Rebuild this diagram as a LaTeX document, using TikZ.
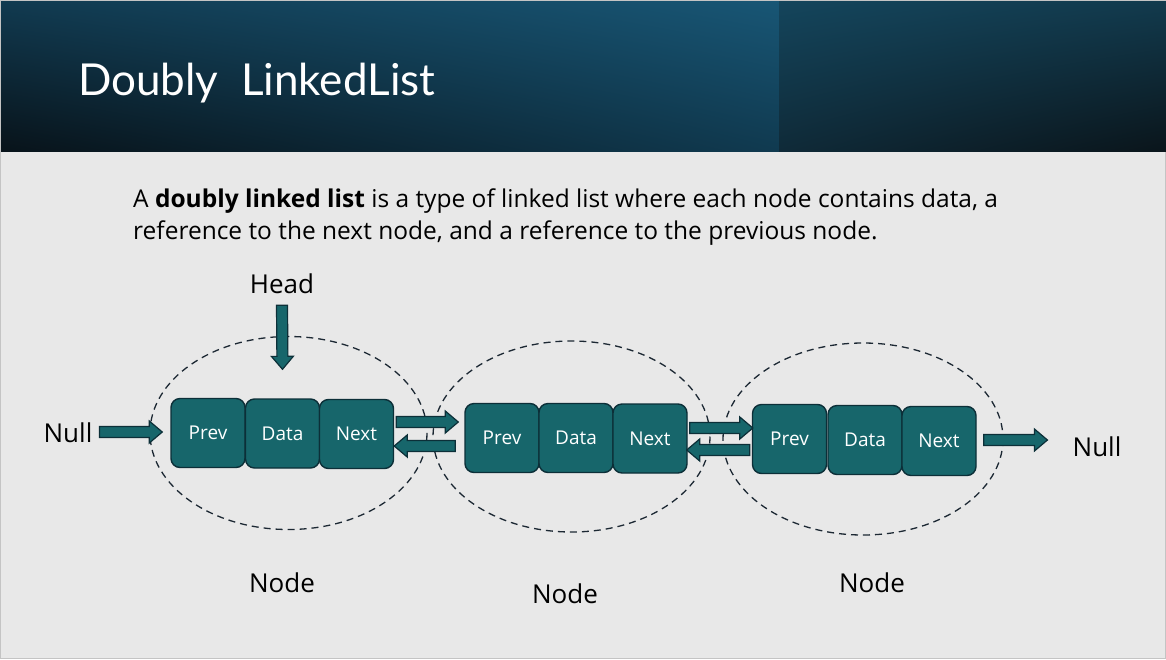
\documentclass[tikz,border=0pt]{standalone}
\usepackage{fontspec}
\setmainfont{Open Sans}
\newfontfamily\titlefont{Lato}
\usetikzlibrary{calc,shadings}
\definecolor{bg}{HTML}{E8E8E8}
\definecolor{frame}{HTML}{C4C4C4}
\definecolor{cellfill}{HTML}{17666B}
\definecolor{celldraw}{HTML}{0C2F38}
\definecolor{hdrUL}{HTML}{113A50}
\definecolor{hdrUR}{HTML}{185675}
\definecolor{hdrLL}{HTML}{08131A}
\definecolor{hdrLR}{HTML}{103A50}
\definecolor{hdrtwoUL}{HTML}{14455C}
\definecolor{hdrtwoUR}{HTML}{123A4D}
\definecolor{hdrtwoLL}{HTML}{0F2A38}
\definecolor{hdrtwoLR}{HTML}{0A151B}
\definecolor{dashc}{HTML}{1C2833}
\begin{document}
\begin{tikzpicture}[x=1pt,y=-1pt,
  cell/.style={draw=celldraw, fill=cellfill, line width=1.4pt, rounded corners=9pt,
    minimum width=74pt, minimum height=69pt, text=white, inner sep=0pt,
    font=\fontsize{19}{21}\selectfont},
  lbl/.style={font=\fontsize{26}{30}\selectfont, text=black, inner sep=0pt},
  wrap/.style={draw=dashc, dash pattern=on 7pt off 5pt, line width=1.3pt},
  blockarrow/.style={draw=celldraw, fill=cellfill, line width=1.2pt, line join=miter,
    to path={let \p1=(\tikztostart), \p2=(\tikztotarget),
      \n1={atan2(\y2-\y1,\x2-\x1)}, \n2={veclen(\x2-\x1,\y2-\y1)} in
      {[shift={(\p1)}, rotate=\n1] (0,-5.5) -- (\n2-13,-5.5) -- (\n2-13,-11) -- (\n2,0)
       -- (\n2-13,11) -- (\n2-13,5.5) -- (0,5.5) -- cycle}}}
]
\useasboundingbox (0,0) rectangle (1166,659);
% background and header
\fill[bg] (0,0) rectangle (1166,659);
\draw[frame, line width=1pt] (0.5,0.5) rectangle (1165.5,658.5);
\shade[upper left=hdrUL, upper right=hdrUR, lower left=hdrLL, lower right=hdrLR] (1,1) rectangle (779,151);
\shade[upper left=hdrtwoUL, upper right=hdrtwoUR, lower left=hdrtwoLL, lower right=hdrtwoLR] (779,1) rectangle (1166,151);
\node[anchor=base west, text=white, inner sep=0pt, font=\titlefont\fontsize{44}{48}\selectfont] (title) at (78,95) {Doubly\ \ LinkedList};

% description
\node[anchor=base west, inner sep=0pt, font=\fontsize{24.5}{30}\selectfont] (descA) at (133,207)
  {A \textbf{doubly linked list} is a type of linked list where each node contains data, a};
\node[anchor=base west, inner sep=0pt, font=\fontsize{24.5}{30}\selectfont] (descB) at (133,239)
  {reference to the next node, and a reference to the previous node.};

% dashed node outlines
\draw[wrap] (288.5,433) ellipse [x radius=138.5, y radius=96.5];
\draw[wrap] (571.5,436.5) ellipse [x radius=138.5, y radius=95.5];
\draw[wrap] (863,439) ellipse [x radius=140, y radius=96];

% cells
\node[cell] (p1) at (208,433) {Prev};
\node[cell] (d1) at (282.5,433.5) {Data};
\node[cell] (n1) at (356.5,434) {Next};
\node[cell] (p2) at (502,438) {Prev};
\node[cell] (d2) at (576,438) {Data};
\node[cell] (n2) at (650,438.5) {Next};
\node[cell] (p3) at (789.5,439) {Prev};
\node[cell] (d3) at (865,440) {Data};
\node[cell] (n3) at (939,441) {Next};

% labels
\node[lbl] (nullL) at (68,433) {Null};
\node[lbl] (nullR) at (1097,447) {Null};
\node[lbl] (head) at (282,284) {Head};
\node[lbl] (node1) at (282,583) {Node};
\node[lbl] (node2) at (565,594) {Node};
\node[lbl] (node3) at (872,583) {Node};

% block arrows
\draw[blockarrow] ($(nullL.east)+(7,-1)$) to ($(p1.west)+(-8,-1)$);
\draw[blockarrow] ($(head.south)+(0,11)$) to ($(d1.north)+(0,-29)$);
\draw[blockarrow] ($(n1.east)+(2,-12)$) to ($(p2.west)+(-6,-16)$);
\draw[blockarrow] ($(p2.west)+(-9,8)$) to ($(n1.east)+(0,12)$);
\draw[blockarrow] ($(n2.east)+(2,-10.5)$) to ($(p3.west)+(1,-11)$);
\draw[blockarrow] ($(p3.west)+(-2,11)$) to ($(n2.east)+(-1,11.5)$);
\draw[blockarrow] ($(n3.east)+(7,-1)$) to ($(nullR.west)+(-25,-7)$);
\end{tikzpicture}
\end{document}
